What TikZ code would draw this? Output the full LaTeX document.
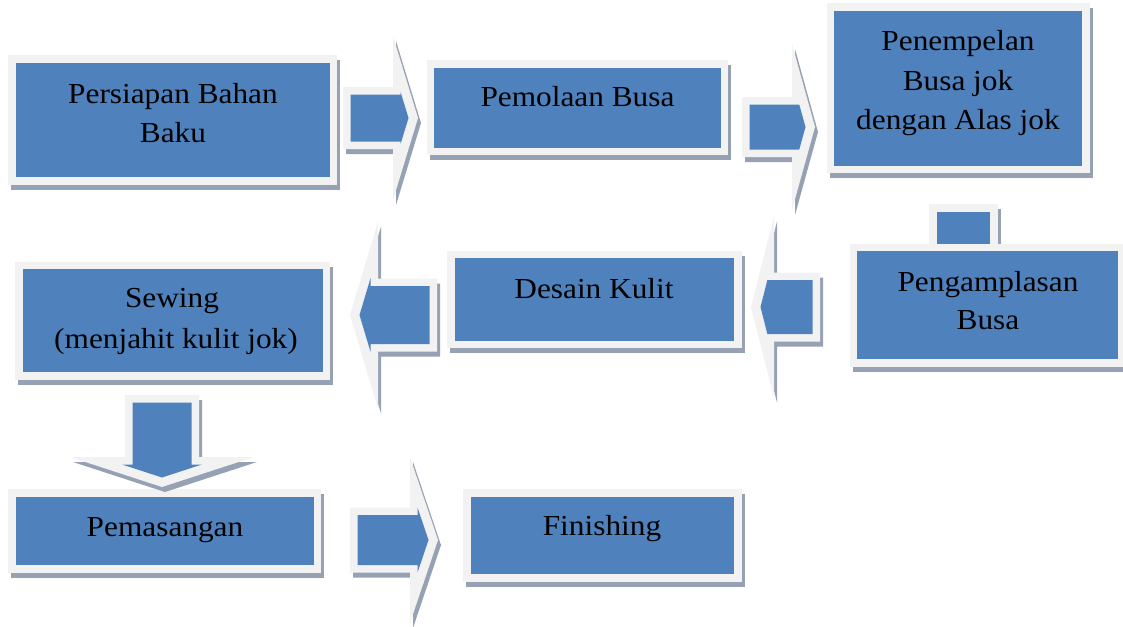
\documentclass[tikz,border=0pt]{standalone}
\usepackage{fontspec}
\setmainfont{Liberation Serif}[FakeStretch=1.08]
\definecolor{sablue}{RGB}{79,129,189}
\definecolor{saframe}{RGB}{242,242,242}
\definecolor{sashadow}{RGB}{150,162,180}
\tikzset{
  box/.style={fill=sablue, draw=saframe, line width=7.5pt, inner sep=0pt,
    preaction={fill=sashadow, draw=sashadow, line width=7.5pt,
      transform canvas={xshift=3pt,yshift=-5pt}}},
  lbl/.style={font=\fontsize{29}{39}\selectfont, text=black, anchor=base, inner sep=0pt},
}
% #1 start coordinate, #2 rotation, #3 shaft length, #4 shaft half width,
% #5 head half width, #6 head length
\newcommand{\blockarrow}[6]{%
  \begin{scope}[shift={(#1)}, rotate=#2]
    \pgfmathsetmacro\baSd{#4-7.5}
    \pgfmathsetmacro\baYb{max((#6-17)*#5/#6, \baSd)}
    \pgfmathsetmacro\baXc{min(#3+7.5, #3+#6-9.5-(#6/#5)*\baSd)}
    \pgfmathsetmacro\baXt{#3+#6-9.5}
    \pgfmathsetmacro\baXh{#3+#6}
    \fill[sashadow, transform canvas={xshift=3pt,yshift=-5pt}]
      (0,-#4) -- (#3,-#4) -- (#3,-#5) -- (\baXh,0) -- (#3,#5) -- (#3,#4) -- (0,#4) -- cycle;
    \fill[saframe]
      (0,-#4) -- (#3,-#4) -- (#3,-#5) -- (\baXh,0) -- (#3,#5) -- (#3,#4) -- (0,#4) -- cycle;
    \fill[sablue]
      (7.5,-\baSd) -- (\baXc,-\baSd) -- (\baXc,-\baYb) -- (\baXt,0) -- (\baXc,\baYb)
      -- (\baXc,\baSd) -- (7.5,\baSd) -- cycle;
  \end{scope}}
\begin{document}
\begin{tikzpicture}[x=1pt,y=-1pt]
\useasboundingbox (0,0) rectangle (1123,626);
\fill[white] (0,0) rectangle (1123,626);

% boxes
\node[box, minimum width=321.5pt, minimum height=122pt] (p1) at (172.75,120) {};
\node[box, minimum width=294pt, minimum height=87.5pt] (p2) at (577.5,107.75) {};
\node[box, minimum width=255.5pt, minimum height=162.5pt] (p3) at (958.25,88.25) {};
\node[box, minimum width=61pt, minimum height=42pt] (stub) at (963.5,229) {};
\node[box, minimum width=268pt, minimum height=115.5pt] (p4) at (987.5,305.25) {};
\node[box, minimum width=287pt, minimum height=90pt] (p5) at (594.5,299.5) {};
\node[box, minimum width=307.5pt, minimum height=110.5pt] (p6) at (172.75,320.75) {};
\node[box, minimum width=305.5pt, minimum height=76pt] (p7) at (164.75,531) {};
\node[box, minimum width=271pt, minimum height=85pt] (p8) at (602.5,535.5) {};

% block arrows
\coordinate (a1) at (343,118);
\coordinate (a2) at (742,127);
\coordinate (a3) at (820,307);
\coordinate (a4) at (437,315);
\coordinate (a5) at (162,395);
\coordinate (a6) at (350,540);
\blockarrow{a1}{0}{50}{31}{82}{25}
\blockarrow{a2}{0}{50}{30}{83}{23}
\blockarrow{a3}{180}{46}{34.5}{90.5}{23}
\blockarrow{a4}{180}{59}{36.5}{93.5}{28}
\blockarrow{a5}{-90}{62}{37}{92}{30}
\blockarrow{a6}{0}{60}{32.5}{83}{28}

% labels
\node[lbl] (t1a) at (173,103) {Persiapan Bahan};
\node[lbl] (t1b) at (173,142) {Baku};
\node[lbl] (t2a) at (577.5,106) {Pemolaan Busa};
\node[lbl] (t3a) at (958,51) {Penempelan};
\node[lbl] (t3b) at (958,90) {Busa jok};
\node[lbl] (t3c) at (958,129) {dengan Alas jok};
\node[lbl] (t4a) at (988,291) {Pengamplasan};
\node[lbl] (t4b) at (988,329) {Busa};
\node[lbl] (t5a) at (594,298) {Desain Kulit};
\node[lbl] (t6a) at (172,307) {Sewing};
\node[lbl] (t6b) at (176,348) {(menjahit kulit jok)};
\node[lbl] (t7a) at (165,536) {Pemasangan};
\node[lbl] (t8a) at (602,535) {Finishing};
\end{tikzpicture}
\end{document}
